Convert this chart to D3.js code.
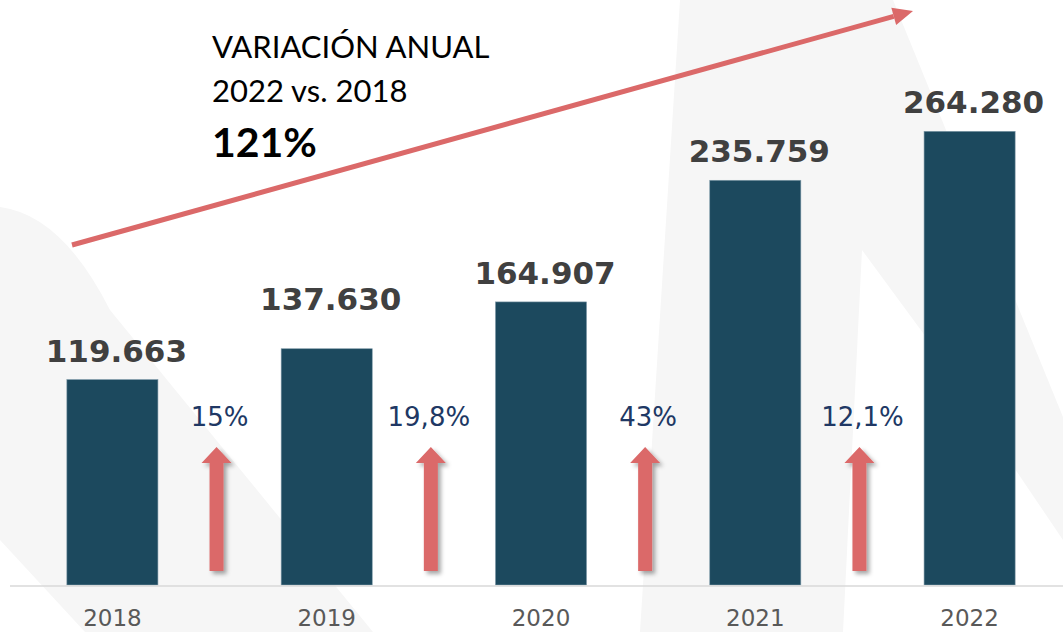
<!DOCTYPE html>
<html>
<head>
<meta charset="utf-8">
<script src="https://cdn.jsdelivr.net/npm/d3@7"></script>
<style>
  body { margin: 0; background: #fff; }
  svg { display: block; }
</style>
</head>
<body>
<div id="chart"></div>
<script>
// data
var years = ["2018", "2019", "2020", "2021", "2022"];
var values = [119663, 137630, 164907, 235759, 264280];
var valueLabels = ["119.663", "137.630", "164.907", "235.759", "264.280"];
var changeLabels = ["15%", "19,8%", "43%", "12,1%"];
var titleLines = ["VARIACIÓN ANUAL", "2022 vs. 2018"];
var totalChange = "121%";

var width = 1063, height = 632;
var baseline = 585;

var svg = d3.select("#chart").append("svg")
  .attr("width", width)
  .attr("height", height);

var defs = svg.append("defs");
var shadow = defs.append("filter").attr("id", "shadow")
  .attr("x", "-50%").attr("y", "-20%").attr("width", "200%").attr("height", "140%");
shadow.append("feDropShadow")
  .attr("dx", 3).attr("dy", 3).attr("stdDeviation", 2)
  .attr("flood-color", "#000").attr("flood-opacity", 0.35);

/* faint background watermark */
var bg = svg.append("g").attr("fill", "#f6f6f6");
bg.append("path").attr("d", "M0,207 Q62,215 110,310 L373,632 L85,632 L0,540 Z");
bg.append("path").attr("d", "M680,0 L893,0 L1063,417 L1063,540 L923,333 L862,250 L843,632 L640,632 Z");

var x = d3.scaleBand()
  .domain(years)
  .range([24, 1058])
  .paddingInner(0.575)
  .paddingOuter(0.2);

var y = d3.scaleLinear()
  .domain([0, 300000])
  .range([baseline, 70]);

var bw = x.bandwidth();

// bars
svg.append("g").selectAll("rect")
  .data(values).enter().append("rect")
  .attr("x", function(d, i) { return x(years[i]); })
  .attr("y", function(d) { return y(d); })
  .attr("width", bw)
  .attr("height", function(d) { return y(0) - y(d); })
  .attr("fill", "#1c495e")
  .attr("stroke", "#7f9aa8")
  .attr("stroke-width", 0.6);

// axis line + year labels
var xAxis = svg.append("g")
  .attr("transform", "translate(0," + (baseline + 1) + ")")
  .call(d3.axisBottom(x).tickSize(0).tickPadding(24));
xAxis.select(".domain").remove();
xAxis.append("line")
  .attr("x1", 10).attr("x2", width)
  .attr("stroke", "#d9d9d9").attr("stroke-width", 1.5);
xAxis.selectAll(".tick text")
  .attr("font-family", "'DejaVu Sans', Verdana, sans-serif")
  .attr("font-size", 23)
  .attr("fill", "#595959");

// value labels
svg.append("g").selectAll("text")
  .data(values).enter().append("text")
  .attr("x", function(d, i) { return x(years[i]) + bw / 2 + 4; })
  .attr("y", function(d, i) { return y(d) - (i == 1 ? 39 : 18); })
  .attr("text-anchor", "middle")
  .attr("font-family", "'DejaVu Sans', Verdana, sans-serif")
  .attr("font-weight", "bold")
  .attr("font-size", 31)
  .attr("fill", "#404040")
  .text(function(d, i) { return valueLabels[i]; });

// yearly change: label + up arrow between bars
function gapCenter(i) {
  return (x(years[i]) + bw + x(years[i + 1])) / 2;
}

svg.append("g").selectAll("text")
  .data(changeLabels).enter().append("text")
  .attr("x", function(d, i) { return gapCenter(i) - (i == 1 ? 5 : 0); })
  .attr("y", baseline - 159)
  .attr("text-anchor", "middle")
  .attr("font-family", "'DejaVu Sans', Verdana, sans-serif")
  .attr("font-size", 26)
  .attr("fill", "#203864")
  .text(function(d) { return d; });

svg.append("g").selectAll("path")
  .data(changeLabels).enter().append("path")
  .attr("filter", "url(#shadow)")
  .attr("fill", "#db6969")
  .attr("d", function(d, i) {
    var cx = gapCenter(i) - 3,
        tip = baseline - 138, neck = baseline - 122, bottom = baseline - 14;
    return "M" + cx + "," + tip +
      "L" + (cx + 15) + "," + neck +
      "L" + (cx + 7) + "," + neck +
      "L" + (cx + 7) + "," + bottom +
      "L" + (cx - 7) + "," + bottom +
      "L" + (cx - 7) + "," + neck +
      "L" + (cx - 15) + "," + neck + "Z";
  });

// big trend arrow
var p0 = [72, 245], p1 = [913, 11];
var ang = Math.atan2(p1[1] - p0[1], p1[0] - p0[0]);
var headLen = 20, headHalf = 9;
var bx = p1[0] - headLen * Math.cos(ang), by = p1[1] - headLen * Math.sin(ang);
svg.append("line")
  .attr("x1", p0[0]).attr("y1", p0[1])
  .attr("x2", bx).attr("y2", by)
  .attr("stroke", "#db6969").attr("stroke-width", 5);
svg.append("path")
  .attr("fill", "#db6969")
  .attr("d", "M" + p1[0] + "," + p1[1] +
    "L" + (bx + headHalf * Math.sin(ang)) + "," + (by - headHalf * Math.cos(ang)) +
    "L" + (bx - headHalf * Math.sin(ang)) + "," + (by + headHalf * Math.cos(ang)) + "Z");

// title block
var title = svg.append("g").attr("font-family", "Lato, 'Open Sans', sans-serif").attr("fill", "#000");
title.selectAll("text.line")
  .data(titleLines).enter().append("text")
  .attr("class", "line")
  .attr("x", 212)
  .attr("y", function(d, i) { return 58 + i * 44; })
  .attr("font-size", 31)
  .text(function(d) { return d; });
title.append("text")
  .attr("x", 212).attr("y", 157)
  .attr("font-size", 41)
  .attr("font-weight", "bold")
  .text(totalChange);
</script>
</body>
</html>
